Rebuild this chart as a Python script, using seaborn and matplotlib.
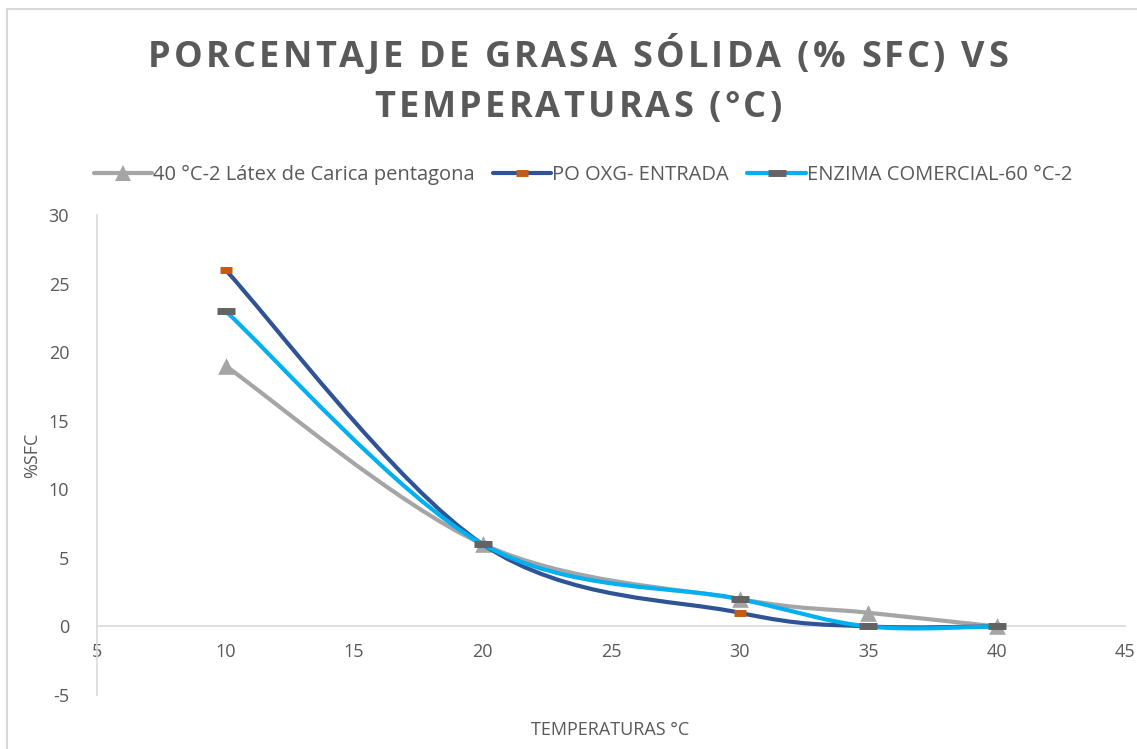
import numpy as np
import seaborn as sns
from matplotlib import pyplot as plt
from matplotlib.lines import Line2D
from matplotlib.path import Path
from matplotlib.patches import PathPatch, Rectangle

# data
temperaturas = [10, 20, 30, 35, 40]
sfc_latex = [19, 6, 2, 1, 0]
sfc_po_oxg = [26, 6, 1, 0, 0]
sfc_enzima = [23, 6, 2, 0, 0]

series_names = [
    "40 °C-2 Látex de Carica pentagona",
    "PO OXG- ENTRADA",
    "ENZIMA COMERCIAL-60 °C-2",
]
title_lines = ["PORCENTAJE DE GRASA SÓLIDA (% SFC) VS", "TEMPERATURAS (°C)"]

TEXT = "#595959"


def smooth_path(xs, ys):
    # Excel style smoothed line: cubic bezier segments (catmull-rom control points)
    pts = np.column_stack([xs, ys]).astype(float)
    n = len(pts)
    verts = [pts[0]]
    codes = [Path.MOVETO]
    for i in range(n - 1):
        p0 = pts[max(i - 1, 0)]
        p1 = pts[i]
        p2 = pts[i + 1]
        p3 = pts[min(i + 2, n - 1)]
        c1 = p1 + (p2 - p0) / 6.0
        c2 = p2 - (p3 - p1) / 6.0
        verts += [c1, c2, p2]
        codes += [Path.CURVE4] * 3
    return Path(verts, codes)


def spaced_text(fig, xc, yc, s, spacing, **kw):
    # matplotlib has no letter spacing, so place the characters one by one
    renderer = fig.canvas.get_renderer()
    W = fig.bbox.width
    widths = []
    for ch in s:
        t = fig.text(0, 0, ch, **kw)
        widths.append(t.get_window_extent(renderer).width if ch != " " else None)
        t.remove()
    sp = fig.text(0, 0, "a a", **kw)
    aa = fig.text(0, 0, "aa", **kw)
    space_w = sp.get_window_extent(renderer).width - aa.get_window_extent(renderer).width
    sp.remove()
    aa.remove()
    widths = [w if w is not None else space_w for w in widths]
    total = sum(widths) + spacing * (len(s) - 1)
    x = xc * W - total / 2
    for ch, w in zip(s, widths):
        if ch != " ":
            fig.text(x / W, yc, ch, ha="left", va="center", **kw)
        x += w + spacing


def main():
    sns.set_style("white")
    plt.rcParams["font.family"] = ["Open Sans", "DejaVu Sans"]
    plt.rcParams["axes.unicode_minus"] = False

    fig = plt.figure(figsize=(11.37, 7.49), dpi=100)
    ax = fig.add_axes([97 / 1137, 1 - 695 / 749, (1125 - 97) / 1137, (695 - 215) / 749])

    styles = [
        dict(color="#A5A5A5", marker="^", mcolor="#A5A5A5", ms=12, mew=0),
        dict(color="#2F5496", marker="_", mcolor="#C55A11", ms=8, mew=5),
        dict(color="#00B0F0", marker="_", mcolor="#636363", ms=13, mew=5),
    ]
    all_y = [sfc_latex, sfc_po_oxg, sfc_enzima]

    handles = []
    for i, (ys, st, name) in enumerate(zip(all_y, styles, series_names)):
        ax.add_patch(PathPatch(smooth_path(temperaturas, ys), fill=False,
                               edgecolor=st["color"], lw=3.0, zorder=2 + i,
                               capstyle="round"))
        sns.scatterplot(x=temperaturas, y=ys, ax=ax, marker=st["marker"],
                        s=st["ms"] ** 2, color=st["mcolor"],
                        linewidth=st["mew"], edgecolor=st["mcolor"],
                        zorder=2.5 + i, legend=False)
        handles.append(Line2D([], [], color=st["color"], lw=3.0,
                              marker=st["marker"], markersize=st["ms"],
                              markerfacecolor=st["mcolor"],
                              markeredgecolor=st["mcolor"],
                              markeredgewidth=st["mew"], label=name))

    ax.set_xlim(5, 45)
    ax.set_ylim(-5, 30)
    ax.set_xticks(range(5, 50, 5))
    ax.set_yticks(range(-5, 35, 5))
    ax.grid(False)

    for side in ["top", "right"]:
        ax.spines[side].set_visible(False)
    ax.spines["bottom"].set_position(("data", 0))
    ax.spines["bottom"].set_color("#D9D9D9")
    ax.spines["left"].set_color("#D9D9D9")
    ax.spines["bottom"].set_linewidth(1.2)
    ax.spines["left"].set_linewidth(1.2)
    ax.tick_params(axis="both", length=0, labelsize=13, labelcolor=TEXT)
    ax.tick_params(axis="x", pad=12)
    ax.tick_params(axis="y", pad=20)

    fig.text(32 / 1137, 1 - 455 / 749, "%SFC", rotation=90, ha="center",
             va="center", fontsize=13, color=TEXT)
    fig.text(610 / 1137, 1 - 730 / 749, "TEMPERATURAS °C", ha="center",
             va="center", fontsize=13, color=TEXT)

    title_kw = dict(fontsize=26, fontweight="bold", color=TEXT)
    spaced_text(fig, 578 / 1137, 1 - 58 / 749, title_lines[0], 3.2, **title_kw)
    spaced_text(fig, 578 / 1137, 1 - 108 / 749, title_lines[1], 3.2, **title_kw)

    fig.legend(handles=handles, loc="center", ncol=3,
               bbox_to_anchor=(583 / 1137, 1 - 175 / 749), frameon=False,
               fontsize=14.5, labelcolor=TEXT, handlelength=2.9,
               handletextpad=0.05, columnspacing=0.9)

    fig.patches.append(Rectangle((7 / 1137, -0.1), 1.2, 1 - 9 / 749 + 0.1,
                                 transform=fig.transFigure, fill=False,
                                 edgecolor="#D9D9D9", lw=1.5))

    fig.savefig("out.png", dpi=100)


if __name__ == "__main__":
    main()
